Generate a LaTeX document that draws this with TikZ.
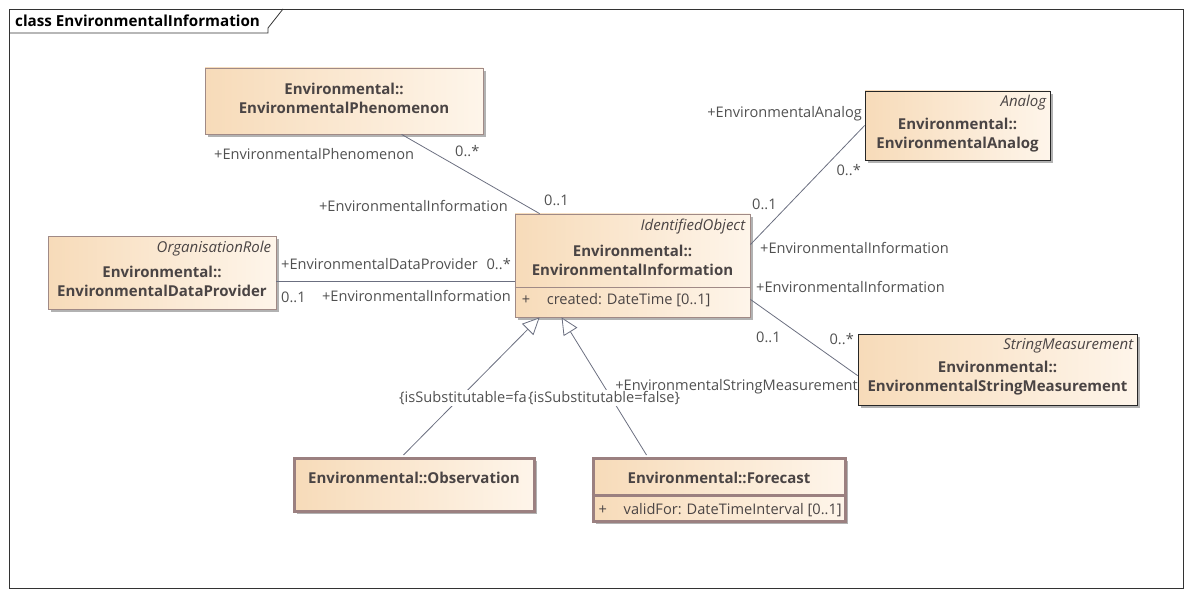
\documentclass[tikz,border=0pt]{standalone}
\usepackage{fontspec}
\setmainfont{Open Sans}
\setsansfont{Open Sans}
\usepackage{tikz}
\usetikzlibrary{arrows.meta,positioning,calc,shadows}

\definecolor{clsdark}{HTML}{F7DBB9}
\definecolor{clslight}{HTML}{FEF5EA}
\definecolor{clsline}{HTML}{A08A86}
\definecolor{clsthick}{HTML}{9B8080}
\definecolor{clstext}{HTML}{4A4444}
\definecolor{lbltext}{HTML}{505050}
\definecolor{conline}{HTML}{6B6F80}

\begin{document}
\begin{tikzpicture}[
  x=1pt, y=-1pt,
  font=\fontsize{14.6}{17}\selectfont,
  cls/.style={draw=clsline, line width=0.8pt, left color=clsdark, right color=clslight, inner sep=0pt,
    drop shadow={shadow xshift=3pt, shadow yshift=-3pt, fill=black!30, opacity=1}},
  selcls/.style={cls, draw=black!85},
  leaf/.style={cls, draw=clsthick, line width=3pt},
  clsname/.style={text=clstext, font=\fontsize{15}{19}\selectfont\bfseries, align=center, inner sep=0pt},
  stereo/.style={text=clstext, font=\fontsize{15}{17}\selectfont\itshape, anchor=east, inner sep=0pt},
  attr/.style={text=clstext, anchor=west, inner sep=0pt, font=\fontsize{14.6}{17}\selectfont},
  lbl/.style={text=lbltext, inner sep=0pt},
  assoc/.style={draw=conline, line width=0.8pt},
  gen/.style={draw=conline, line width=0.8pt, -{Triangle[length=17pt, width=16pt, fill=white]}},
]
\useasboundingbox (0,0) rectangle (1191,596);
% Frame
\draw[black!80, line width=0.8pt] (9,9) rectangle (1183,588);
\draw[black!80, line width=0.8pt] (9,33) -- (268,33) -- (268,28) -- (283,9);
\node[anchor=west, inner sep=0pt, font=\fontsize{15.2}{17}\selectfont\bfseries] (title) at (15,21) {class EnvironmentalInformation};
% Classes
\node[cls, minimum width=278pt, minimum height=66pt] (phen) at (344,101) {};
\node[clsname] at ($(phen.north)+(0,31)$) {Environmental::\\EnvironmentalPhenomenon};
\node[cls, minimum width=228pt, minimum height=73pt] (prov) at (162,272.5) {};
\node[stereo] at ($(prov.north east)+(-5,13)$) {OrganisationRole};
\node[clsname] at ($(prov.north)+(0,46)$) {Environmental::\\EnvironmentalDataProvider};
\node[cls, minimum width=235pt, minimum height=103pt] (info) at (632.5,265.5) {};
\node[stereo] at ($(info.north east)+(-5,13)$) {IdentifiedObject};
\node[clsname] at ($(info.north)+(0,46.5)$) {Environmental::\\EnvironmentalInformation};
\draw[clsline, line width=0.8pt] ($(info.south west)+(0,-30)$) -- ($(info.south east)+(0,-30)$);
\node[attr] at ($(info.south west)+(7,-17)$) {+};
\node[attr] at ($(info.south west)+(32,-17)$) {created: DateTime [0..1]};
\node[selcls, minimum width=185pt, minimum height=69pt] (analog) at (957.5,125.5) {};
\node[stereo] at ($(analog.north east)+(-4,12)$) {Analog};
\node[clsname] at ($(analog.north)+(0,45)$) {Environmental::\\EnvironmentalAnalog};
\node[selcls, minimum width=279pt, minimum height=71pt] (strm) at (997.5,369.5) {};
\node[stereo] at ($(strm.north east)+(-4,12)$) {StringMeasurement};
\node[clsname] at ($(strm.north)+(0,44.5)$) {Environmental::\\EnvironmentalStringMeasurement};
\node[leaf, minimum width=240pt, minimum height=53pt] (obs) at (414,484.5) {};
\node[clsname] at ($(obs.north)+(0,21)$) {Environmental::Observation};
\node[leaf, minimum width=252pt, minimum height=63pt] (fcst) at (719,489.5) {};
\node[clsname] at ($(fcst.north)+(0,21)$) {Environmental::Forecast};
\draw[clsthick, line width=3pt] ($(fcst.south west)+(0,-27)$) -- ($(fcst.south east)+(0,-27)$);
\node[attr] at ($(fcst.south west)+(7,-12)$) {+};
\node[attr] at ($(fcst.south west)+(32,-12)$) {validFor: DateTimeInterval [0..1]};
% Associations
\draw[assoc] ($(phen.south west)+(197,0)$) -- ($(info.north west)+(25,0)$);
\draw[assoc] ($(prov.south east)+(0,-28)$) coordinate (p1) -- (p1 -| info.west);
\draw[assoc] (analog.west) -- ($(info.north east)+(0,31)$);
\draw[assoc] ($(info.south east)+(0,-18)$) -- ($(strm.north west)+(0,42)$);
% Generalisations
\draw[gen] ($(obs.north west)+(111,-1.5)$) -- ($(info.south west)+(25,0)$);
\draw[gen] ($(fcst.north west)+(55,-1.5)$) -- ($(info.south west)+(47,0)$);
% Role labels
\node[lbl, anchor=west] at (214,154) {+EnvironmentalPhenomenon};
\node[lbl, anchor=west] at (455,151) {0..*};
\node[lbl, anchor=east] at (508,206) {+EnvironmentalInformation};
\node[lbl, anchor=west] at (544,200) {0..1};
\node[lbl, anchor=west] at (281,264) {+EnvironmentalDataProvider};
\node[lbl, anchor=east] at (511,264) {0..*};
\node[lbl, anchor=west] at (281,297) {0..1};
\node[lbl, anchor=east] at (511,296) {+EnvironmentalInformation};
\node[lbl, anchor=east] at (862,114) {+EnvironmentalAnalog};
\node[lbl, anchor=east] at (861,170) {0..*};
\node[lbl, anchor=west] at (752,204) {0..1};
\node[lbl, anchor=west] at (760,248) {+EnvironmentalInformation};
\node[lbl, anchor=west] at (756,287) {+EnvironmentalInformation};
\node[lbl, anchor=west] at (756,337) {0..1};
\node[lbl, anchor=east] at (854,339) {0..*};
\node[lbl, anchor=east] at (858,387) {+EnvironmentalStringMeasurement};
\node[lbl, anchor=west, fill=white, inner sep=1pt] at (398,398) {\{isSubstitutable=false\}};
\node[lbl, anchor=west, fill=white, inner sep=1pt] at (527,398) {\{isSubstitutable=false\}};
\end{tikzpicture}
\end{document}
